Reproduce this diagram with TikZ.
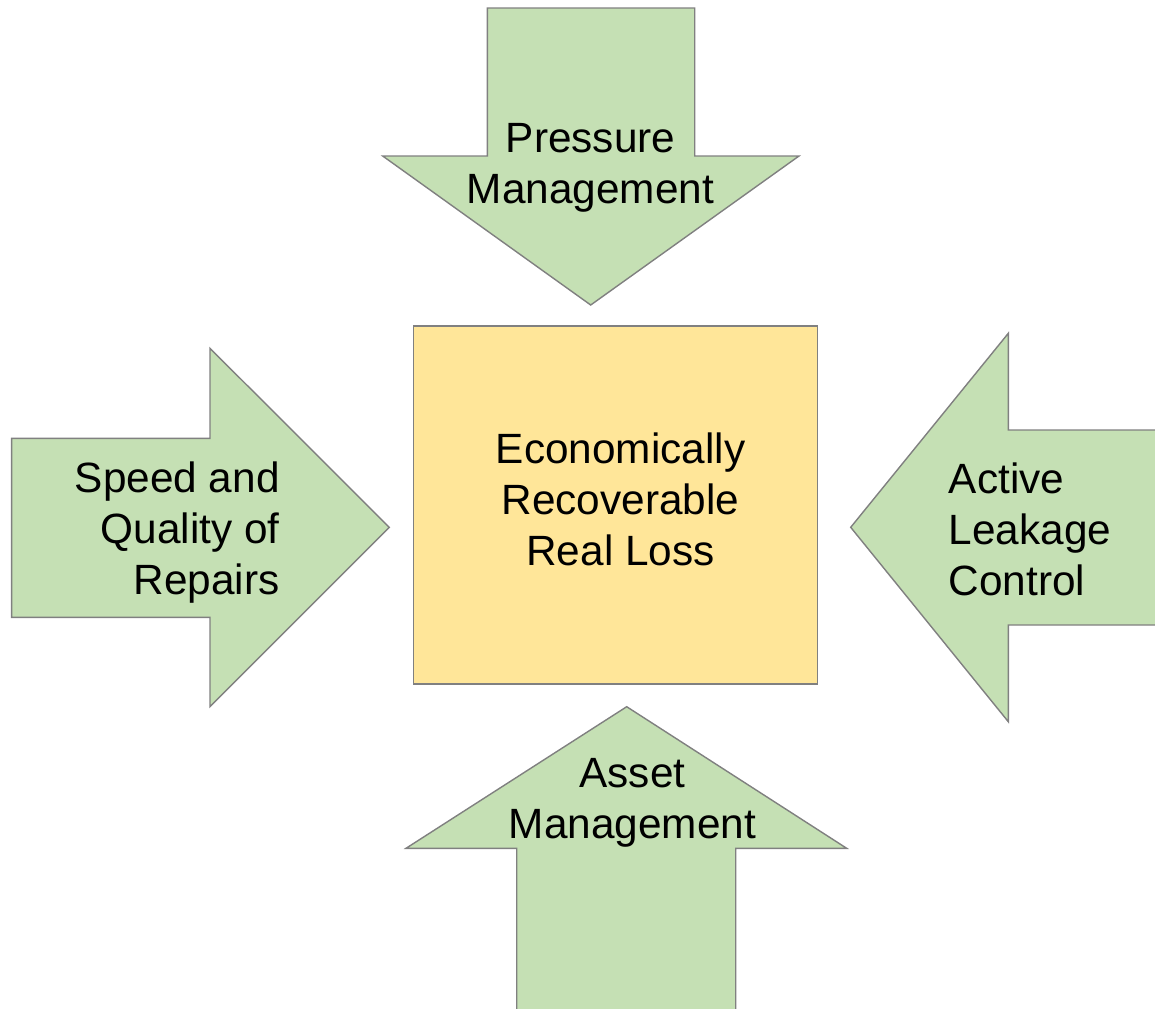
\documentclass[tikz,border=0pt]{standalone}
\usepackage{fontspec}
\setmainfont{Liberation Sans}
\usepackage{tikz}
\definecolor{leafgreen}{HTML}{C5E0B4}
\definecolor{paleyellow}{HTML}{FFE699}
\definecolor{edgegrey}{HTML}{808080}
\tikzstyle{blockarrow} = [fill=leafgreen, draw=edgegrey, line width=0.8pt, line join=miter]
\tikzstyle{lossbox} = [rectangle, minimum width=8.08cm, minimum height=7.16cm, fill=paleyellow, draw=edgegrey, line width=0.8pt, inner sep=0pt]
\tikzstyle{caption} = [inner sep=0pt, font=\fontsize{24.1pt}{28.9pt}\selectfont]

\begin{document}
\begin{tikzpicture}[x=0.02cm, y=-0.02cm]
\clip (0,0) rectangle (1155,1008);

%Pressure Management
\draw[blockarrow] (487.3,8) -- (694.7,8) -- (694.7,156) -- (799,156) -- (590.7,305) -- (382.7,156) -- (487.3,156) -- cycle;
\node(pressure)at(590.5,203)[caption, anchor=base, align=center]{Pressure\\Management};

%Speed and Quality of Repairs
\draw[blockarrow] (11.7,438.3) -- (210,438.3) -- (210,348.3) -- (389.3,527.3) -- (210,706.7) -- (210,617.3) -- (11.7,617.3) -- cycle;
\node(repairs)at(280,594.3)[caption, anchor=base east, align=right]{Speed and\\Quality of\\Repairs};

%Active Leakage Control
\draw[blockarrow] (1170,430) -- (1008.3,430) -- (1008.3,333.3) -- (850.7,527.3) -- (1008.3,721.7) -- (1008.3,625) -- (1170,625);
\node(leakage)at(948.5,595)[caption, anchor=base west, align=left]{Active\\Leakage\\Control};

%Asset Management
\draw[blockarrow] (516.7,1020) -- (516.7,848.3) -- (406,848.3) -- (626.7,706.7) -- (846.7,848.3) -- (735.7,848.3) -- (735.7,1020);
\node(asset)at(632.5,838.3)[caption, anchor=base, align=center]{Asset\\Management};

%Real Loss
\node(loss)at(615.3,505)[lossbox]{};
\node(losstext)at(620.5,565)[caption, anchor=base, align=center]{Economically\\Recoverable\\Real Loss};
\end{tikzpicture}
\end{document}
